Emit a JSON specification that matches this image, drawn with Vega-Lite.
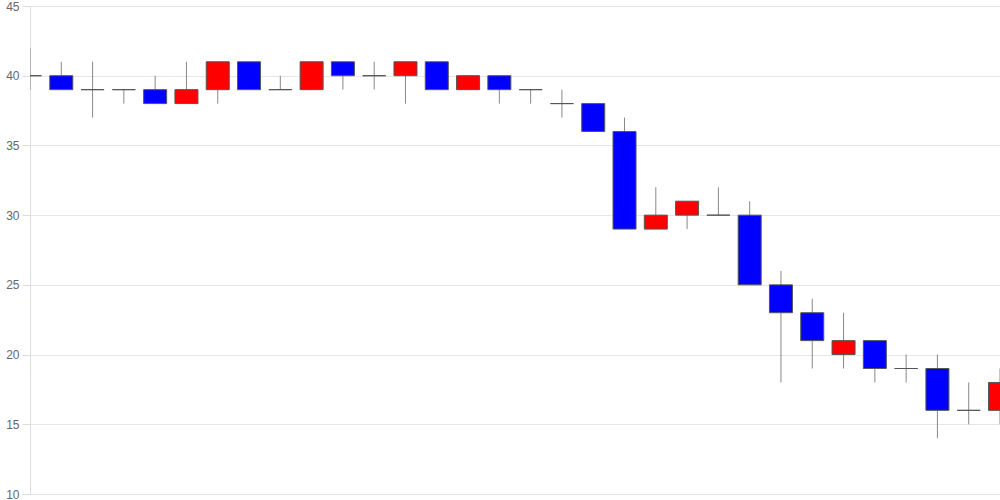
{
  "$schema": "https://vega.github.io/schema/vega-lite/v6.json",
  "width": 970,
  "height": 488,
  "autosize": {"type": "none"},
  "padding": {"left": 30, "top": 6, "right": 0, "bottom": 6},
  "background": "#ffffff",
  "config": {"view": {"stroke": null}},
  "data": {"values": [
    {"i": 0, "open": 40, "close": 40, "high": 42, "low": 39},
    {"i": 1, "open": 40, "close": 39, "high": 41, "low": 39},
    {"i": 2, "open": 39, "close": 39, "high": 41, "low": 37},
    {"i": 3, "open": 39, "close": 39, "high": 39, "low": 38},
    {"i": 4, "open": 39, "close": 38, "high": 40, "low": 38},
    {"i": 5, "open": 38, "close": 39, "high": 41, "low": 38},
    {"i": 6, "open": 39, "close": 41, "high": 41, "low": 38},
    {"i": 7, "open": 41, "close": 39, "high": 41, "low": 39},
    {"i": 8, "open": 39, "close": 39, "high": 40, "low": 39},
    {"i": 9, "open": 39, "close": 41, "high": 41, "low": 39},
    {"i": 10, "open": 41, "close": 40, "high": 41, "low": 39},
    {"i": 11, "open": 40, "close": 40, "high": 41, "low": 39},
    {"i": 12, "open": 40, "close": 41, "high": 41, "low": 38},
    {"i": 13, "open": 41, "close": 39, "high": 41, "low": 39},
    {"i": 14, "open": 39, "close": 40, "high": 40, "low": 39},
    {"i": 15, "open": 40, "close": 39, "high": 40, "low": 38},
    {"i": 16, "open": 39, "close": 39, "high": 39, "low": 38},
    {"i": 17, "open": 38, "close": 38, "high": 39, "low": 37},
    {"i": 18, "open": 38, "close": 36, "high": 38, "low": 36},
    {"i": 19, "open": 36, "close": 29, "high": 37, "low": 29},
    {"i": 20, "open": 29, "close": 30, "high": 32, "low": 29},
    {"i": 21, "open": 30, "close": 31, "high": 31, "low": 29},
    {"i": 22, "open": 30, "close": 30, "high": 32, "low": 30},
    {"i": 23, "open": 30, "close": 25, "high": 31, "low": 25},
    {"i": 24, "open": 25, "close": 23, "high": 26, "low": 18},
    {"i": 25, "open": 23, "close": 21, "high": 24, "low": 19},
    {"i": 26, "open": 20, "close": 21, "high": 23, "low": 19},
    {"i": 27, "open": 21, "close": 19, "high": 21, "low": 18},
    {"i": 28, "open": 19, "close": 19, "high": 20, "low": 18},
    {"i": 29, "open": 19, "close": 16, "high": 20, "low": 14},
    {"i": 30, "open": 16, "close": 16, "high": 18, "low": 15},
    {"i": 31, "open": 16, "close": 18, "high": 19, "low": 15}
  ]},
  "encoding": {
    "x": {"field": "i", "type": "quantitative", "scale": {"domain": [0, 31], "nice": false, "zero": false, "padding": 0}, "axis": null}
  },
  "layer": [
    {
      "mark": {"type": "rule", "color": "#888888", "strokeWidth": 1, "clip": true},
      "encoding": {
        "y": {"field": "low", "type": "quantitative",
          "scale": {"domain": [10, 45], "nice": false, "zero": false},
          "axis": {
            "values": [10, 15, 20, 25, 30, 35, 40, 45],
            "title": null,
            "grid": true,
            "gridColor": "#e6e6e6",
            "domainColor": "#dddddd",
            "tickColor": "#dddddd",
            "tickSize": 8,
            "labelPadding": 3,
            "labelFont": "Liberation Sans",
            "labelFontSize": 12,
            "labelColor": "#666666"
          }},
        "y2": {"field": "high"}
      }
    },
    {
      "mark": {"type": "bar", "size": 23, "stroke": "#555555", "strokeWidth": 1, "clip": true},
      "encoding": {
        "y": {"field": "open", "type": "quantitative"},
        "y2": {"field": "close"},
        "color": {"condition": {"test": "datum.close > datum.open", "value": "#ff0000"}, "value": "#0000ff"}
      }
    }
  ]
}
